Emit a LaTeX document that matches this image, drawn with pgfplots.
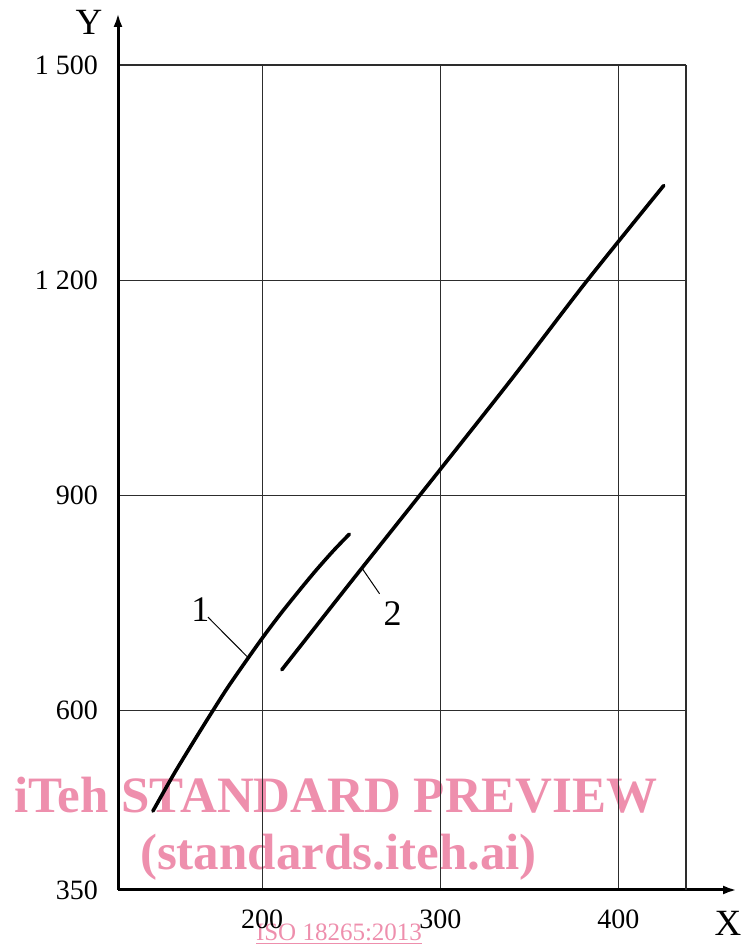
\documentclass[border=0pt]{standalone}
\usepackage{fontspec}
\setmainfont{Liberation Serif}
\usepackage{pgfplots}
\pgfplotsset{compat=1.18}
\usetikzlibrary{arrows.meta}
\definecolor{wm}{RGB}{238,143,173}
\definecolor{gridc}{RGB}{45,45,45}

\begin{document}
\begin{tikzpicture}[x=1pt,y=1pt]
\useasboundingbox (0,0) rectangle (742,947);
% watermark, behind the chart
\node[wm, inner sep=0pt, anchor=base, font=\fontsize{51}{51}\selectfont\bfseries] at (336,134) {iTeh STANDARD PREVIEW};
\node[wm, inner sep=0pt, anchor=base, font=\fontsize{51}{51}\selectfont\bfseries] at (338.5,77) {(standards.iteh.ai)};
\node[wm, inner sep=0pt, anchor=base, font=\fontsize{25}{25}\selectfont] at (339,6) {\underline{ISO 18265:2013}};

\begin{axis}[
    at={(118pt,57pt)}, anchor=south west,
    scale only axis, width=568pt, height=825pt,
    xmin=119, xmax=438, ymin=350, ymax=1500,
    axis x line=bottom, axis y line=left,
    x axis line style={line width=3pt, -{Latex[length=14pt,width=9pt]}, shorten >=-51pt},
    y axis line style={line width=3pt, -{Latex[length=14pt,width=9pt]}, shorten >=-52pt},
    xtick={200,300,400}, xticklabels={200,300,400},
    ytick={350,600,900,1200,1500}, yticklabels={350,600,900,1~200,1~500},
    extra x ticks={438}, extra x tick labels={},
    extra x tick style={grid=major},
    major tick length=0pt,
    grid=major, major grid style={gridc, line width=1.3pt},
    ticklabel style={font=\fontsize{28}{28}\selectfont, inner sep=0pt},
    xticklabel style={anchor=north, yshift=-20pt},
    yticklabel style={anchor=east, xshift=-20pt},
    clip=false,
]
% curve 1
\addplot[black, line width=3.6pt, smooth, line cap=round] coordinates {
    (138.6,460) (150,510) (160,551) (170,591) (180,630) (190,666)
    (200,701) (210,734) (220,765) (230,795) (240,823) (248.9,846)
};
% curve 2
\addplot[black, line width=3.6pt, smooth, line cap=round] coordinates {
    (211,657) (250,780) (290,905) (340,1062) (382,1198) (425.5,1332)
};
\draw[line width=1pt] (axis cs:169.5,730.4) -- (axis cs:191.4,675.6);
\draw[line width=1pt] (axis cs:265.9,762.9) -- (axis cs:256,798.7);
\node[font=\fontsize{36}{36}\selectfont, inner sep=0pt] at (axis cs:165.2,740.6) {1};
\node[font=\fontsize{36}{36}\selectfont, inner sep=0pt] at (axis cs:273.2,736) {2};
\end{axis}

\node[font=\fontsize{37}{37}\selectfont, inner sep=0pt] at (89,924.5) {Y};
\node[font=\fontsize{37}{37}\selectfont, inner sep=0pt] at (728,24) {X};
\end{tikzpicture}
\end{document}
